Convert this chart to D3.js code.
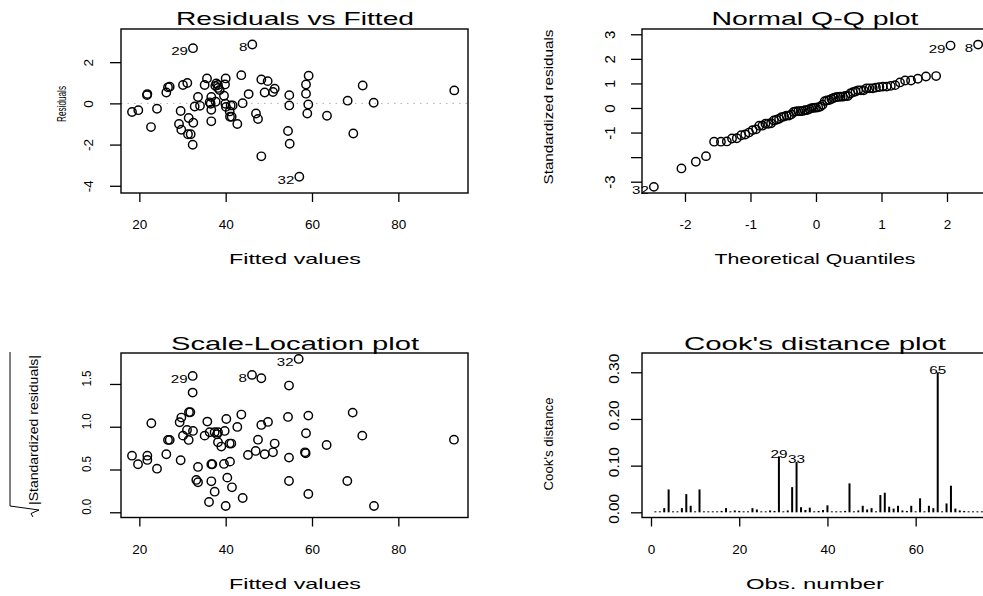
<!DOCTYPE html>
<html>
<head>
  <meta charset="utf-8" />
  <title>lm diagnostics</title>
  <style>
    body { margin: 0; background: #fff; }
    svg text { font-family: "Liberation Sans", Arial, Helvetica, sans-serif; fill: #000; }
    .frame { fill: none; stroke: #000; stroke-width: 1.4; }
    .pt { fill: none; stroke: #000; stroke-width: 1.45; }
    .axis path { display: none; }
    .axis line { stroke: #000; stroke-width: 1.3; }
  </style>
  <script src="https://cdnjs.cloudflare.com/ajax/libs/d3/7.8.5/d3.min.js"></script>
</head>
<body>
  <div id="chart"></div>
  <script>
    // residuals vs fitted (first three are the labelled obs 29, 8, 32)
    var fitted = [32.43, 46.17, 57.06, 43.62, 59.22, 35.67, 40.00, 48.26, 49.73, 31.11, 30.11, 37.82, 38.22, 37.60, 38.22,
      38.61, 27.03, 26.64, 35.13, 39.84, 58.61, 71.74, 21.85, 21.77, 26.25, 51.36, 50.96, 49.03, 45.32, 39.61, 33.59, 36.67,
      54.74, 58.61, 92.96, 36.29, 37.68, 43.93, 39.92, 41.16, 41.62, 34.05, 32.82, 54.74, 59.14, 68.26, 74.29, 36.67, 40.07,
      40.93, 29.57, 24.09, 19.76, 18.30, 47.02, 47.49, 58.91, 63.47, 31.43, 32.50, 29.19, 29.72, 36.67, 41.00, 41.39, 42.70,
      22.70, 31.27, 31.89, 32.36, 54.44, 54.83, 69.57, 48.26, 36.52];
    var residuals = [2.68, 2.86, -3.56, 1.37, 1.34, 1.21, 1.21, 1.16, 1.08, 0.99, 0.89, 0.97, 0.89, 0.85, 0.75, 0.65, 0.81,
      0.78, 0.89, 0.92, 0.92, 0.87, 0.45, 0.40, 0.53, 0.71, 0.55, 0.53, 0.45, 0.37, 0.31, 0.31, 0.40, 0.47, 0.63, 0.05, 0.08,
      0.01, -0.02, -0.10, -0.10, -0.12, -0.15, -0.10, -0.05, 0.13, 0.03, -0.31, -0.17, -0.39, -0.37, -0.26, -0.33, -0.42,
      -0.49, -0.76, -0.49, -0.60, -0.71, -0.94, -1.00, -1.28, -0.87, -0.65, -0.65, -1.00, -1.15, -1.50, -1.50, -2.01, -1.34,
      -1.96, -1.46, -2.57, -0.02];
    var pointLabels = ['29', '8', '32'];

    // scale-location (first three again 29, 8, 32)
    var slFitted = [32.35, 46.10, 56.91, 48.26, 54.67, 32.35, 31.50, 31.81, 29.73, 29.34, 22.78, 35.75, 40.15, 43.63, 54.44,
      49.80, 48.26, 42.70, 31.04, 32.43, 30.11, 31.43, 26.64, 27.03, 35.13, 36.29, 37.45, 38.22, 39.77, 37.99, 38.22, 38.99,
      40.92, 41.31, 47.49, 51.35, 26.25, 21.85, 21.85, 18.30, 19.69, 24.09, 29.57, 33.59, 36.68, 36.91, 39.61, 41.00, 45.17,
      46.95, 49.03, 50.96, 54.67, 33.20, 33.59, 36.68, 40.38, 41.46, 37.45, 36.14, 40.00, 43.94, 54.67, 59.15, 69.42, 58.61,
      71.65, 92.89, 63.39, 58.37, 58.53, 68.18, 59.15, 74.36];
    var slValues = [1.594, 1.606, 1.793, 1.567, 1.481, 1.399, 1.169, 1.169, 1.107, 1.052, 1.041, 1.060, 1.091, 1.142, 1.115,
      1.056, 1.021, 0.998, 0.963, 0.951, 0.896, 0.846, 0.846, 0.846, 0.896, 0.935, 0.935, 0.935, 0.951, 0.912, 0.818, 0.768,
      0.803, 0.803, 0.849, 0.803, 0.678, 0.662, 0.612, 0.662, 0.561, 0.510, 0.608, 0.530, 0.561, 0.561, 0.565, 0.592, 0.670,
      0.717, 0.678, 0.701, 0.639, 0.378, 0.351, 0.362, 0.405, 0.292, 0.241, 0.120, 0.074, 0.167, 0.366, 1.130, 1.165, 0.924,
      0.896, 0.849, 0.787, 0.701, 0.690, 0.366, 0.214, 0.074];

    // normal Q-Q
    var qqTheory = [-2.475, -2.054, -1.834, -1.679, -1.555, -1.451, -1.361, -1.282, -1.209, -1.142, -1.080, -1.022, -0.967,
      -0.915, -0.866, -0.818, -0.772, -0.728, -0.685, -0.643, -0.603, -0.563, -0.524, -0.486, -0.449, -0.412, -0.376, -0.341,
      -0.305, -0.270, -0.236, -0.202, -0.168, -0.134, -0.100, -0.067, -0.033, 0, 0.033, 0.067, 0.100, 0.134, 0.168, 0.202,
      0.236, 0.270, 0.305, 0.341, 0.376, 0.412, 0.449, 0.486, 0.524, 0.563, 0.603, 0.643, 0.685, 0.728, 0.772, 0.818, 0.866,
      0.915, 0.967, 1.022, 1.080, 1.142, 1.209, 1.282, 1.361, 1.451, 1.555, 1.679, 1.834, 2.054, 2.475];
    var qqSample = [-3.21, -2.46, -2.19, -1.96, -1.37, -1.37, -1.36, -1.24, -1.23, -1.11, -1.08, -1.00, -0.90, -0.87, -0.72,
      -0.72, -0.64, -0.64, -0.62, -0.51, -0.48, -0.44, -0.37, -0.35, -0.31, -0.31, -0.26, -0.16, -0.14, -0.13, -0.13, -0.12,
      -0.09, -0.085, -0.046, -0.005, 0.006, 0.014, 0.028, 0.058, 0.13, 0.28, 0.31, 0.32, 0.37, 0.41, 0.44, 0.45, 0.46, 0.46,
      0.49, 0.49, 0.59, 0.64, 0.67, 0.72, 0.72, 0.72, 0.80, 0.80, 0.80, 0.83, 0.85, 0.87, 0.87, 0.90, 0.93, 1.04, 1.12, 1.12,
      1.19, 1.28, 1.30, 2.54, 2.58];
    var qqLabelIdx = [0, 73, 74];
    var qqLabelText = ['32', '29', '8'];

    // Cook's distance, obs 1..75
    var cooks = [0.001, 0.002, 0.009, 0.049, 0.002, 0.001, 0.009, 0.039, 0.014, 0.002, 0.049, 0.002, 0.001, 0.002, 0.001,
      0.003, 0.009, 0.001, 0.004, 0.003, 0.002, 0.001, 0.009, 0.006, 0.001, 0.002, 0.004, 0.003, 0.120, 0.001, 0.004, 0.054,
      0.108, 0.011, 0.005, 0.010, 0.001, 0.003, 0.005, 0.015, 0.001, 0.002, 0.001, 0.003, 0.062, 0.001, 0.004, 0.014, 0.006,
      0.009, 0.001, 0.037, 0.042, 0.012, 0.008, 0.014, 0.004, 0.003, 0.014, 0.002, 0.030, 0.002, 0.014, 0.009, 0.300, 0.002,
      0.019, 0.057, 0.008, 0.004, 0.003, 0.002, 0.001, 0.002, 0.001];
    var cookLabelObs = [29, 33, 65];

    // ticks
    var fittedTicks = [20, 40, 60, 80];
    var residTicks = [-4, -2, 0, 2];
    var residTickLabels = ['-4', '-2', '0', '2'];
    var qqXTicks = [-2, -1, 0, 1, 2];
    var qqYTicks = [-3, -2, -1, 0, 1, 2, 3];
    var qqYTickLabels = ['-3', '', '-1', '0', '1', '2', '3'];
    var slTicks = [0, 0.5, 1, 1.5];
    var slTickLabels = ['0.0', '0.5', '1.0', '1.5'];
    var obsTicks = [0, 20, 40, 60];
    var cookTicks = [0, 0.1, 0.2, 0.3];
    var cookTickLabels = ['0.00', '0.10', '0.20', '0.30'];

    var svg = d3.select('#chart').append('svg')
      .attr('width', 983)
      .attr('height', 596);

    function makePanel(box, xDom, yDom) {
      var x = d3.scaleLinear().domain(xDom).range([box.left, box.right]);
      var y = d3.scaleLinear().domain(yDom).range([box.bottom, box.top]);
      return { x: x, y: y, box: box };
    }

    function frame(p) {
      svg.append('rect').attr('class', 'frame')
        .attr('x', p.box.left).attr('y', p.box.top)
        .attr('width', p.box.right - p.box.left)
        .attr('height', p.box.bottom - p.box.top);
    }

    function txt(x, y, s, size, len, rot) {
      var t = svg.append('text').attr('text-anchor', 'middle').style('font-size', size + 'px').text(s);
      if (rot) t.attr('transform', 'translate(' + x + ',' + y + ') rotate(-90)');
      else t.attr('x', x).attr('y', y);
      if (len) t.attr('textLength', len).attr('lengthAdjust', 'spacingAndGlyphs');
      return t;
    }

    function xAxis(p, ticks) {
      var g = svg.append('g').attr('class', 'axis')
        .attr('transform', 'translate(0,' + p.box.bottom + ')')
        .call(d3.axisBottom(p.x).tickValues(ticks).tickSize(9).tickFormat(d => String(d)));
      g.selectAll('text').attr('y', 36).attr('dy', 0).style('font-size', '13.5px');
    }

    function yAxis(p, ticks, labels, o) {
      var g = svg.append('g').attr('class', 'axis')
        .attr('transform', 'translate(' + p.box.left + ',0)')
        .call(d3.axisLeft(p.y).tickValues(ticks).tickSize(11).tickFormat((d, i) => labels[i]));
      var t = g.selectAll('text')
        .attr('transform', 'rotate(-90)')
        .attr('x', o.shift || 0).attr('y', -o.gap).attr('dy', 0)
        .attr('text-anchor', 'middle')
        .style('font-size', o.size + 'px');
      if (o.len) t.attr('textLength', o.len).attr('lengthAdjust', 'spacingAndGlyphs');
    }

    function circles(p, xs, ys) {
      svg.append('g').selectAll('circle')
        .data(d3.range(xs.length))
        .enter()
        .append('circle')
        .attr('class', 'pt')
        .attr('cx', i => p.x(xs[i]))
        .attr('cy', i => p.y(ys[i]))
        .attr('r', 4.2);
    }

    function pointLabel(p, xv, yv, s, size) {
      svg.append('text')
        .attr('x', p.x(xv) - 5).attr('y', p.y(yv) + 7)
        .attr('text-anchor', 'end')
        .attr('textLength', s.length * 8.4).attr('lengthAdjust', 'spacingAndGlyphs')
        .style('font-size', size + 'px')
        .text(s);
    }

    // ---- Residuals vs Fitted
    var p1 = makePanel({ left: 121, right: 468, top: 29, bottom: 193 }, [15.75, 96.14], [-4.35, 3.61]);
    svg.append('line')
      .attr('x1', p1.box.left).attr('x2', p1.box.right)
      .attr('y1', p1.y(0)).attr('y2', p1.y(0))
      .attr('stroke', '#b0b0b0').attr('stroke-width', 1).attr('stroke-dasharray', '1.5,5');
    circles(p1, fitted, residuals);
    pointLabels.forEach((s, i) => pointLabel(p1, fitted[i], residuals[i], s, 11));
    frame(p1);
    xAxis(p1, fittedTicks);
    yAxis(p1, residTicks, residTickLabels, { gap: 28, size: 13.5 });
    txt(295, 25, 'Residuals vs Fitted', 18.5, 238);
    txt(295, 264, 'Fitted values', 15, 132);
    txt(66, 104, 'Residuals', 12, 36, true);

    // ---- Normal Q-Q plot
    var p2 = makePanel({ left: 642, right: 988, top: 29, bottom: 193 }, [-2.656, 2.626], [-3.46, 3.215]);
    circles(p2, qqTheory, qqSample);
    qqLabelIdx.forEach((k, i) => pointLabel(p2, qqTheory[k], qqSample[k], qqLabelText[i], 10));
    frame(p2);
    xAxis(p2, qqXTicks);
    yAxis(p2, qqYTicks, qqYTickLabels, { gap: 27, size: 15 });
    txt(815, 25, 'Normal Q-Q plot', 18.5, 207);
    txt(815, 264, 'Theoretical Quantiles', 15, 201);
    txt(553, 107, 'Standardized residuals', 12.5, 155, true);

    // ---- Scale-Location plot
    var p3 = makePanel({ left: 121, right: 468, top: 353, bottom: 517.5 }, [15.75, 96.14], [-0.061, 1.862]);
    circles(p3, slFitted, slValues);
    pointLabels.forEach((s, i) => pointLabel(p3, slFitted[i], slValues[i], s, 11));
    frame(p3);
    xAxis(p3, fittedTicks);
    yAxis(p3, slTicks, slTickLabels, { gap: 30, size: 13.5, shift: 6, len: 16 });
    txt(295, 349.5, 'Scale-Location plot', 18.5, 248);
    txt(295, 588.5, 'Fitted values', 15, 132);
    txt(38, 430, '|Standardized residuals|', 12, 150, true);
    svg.append('path')
      .attr('d', 'M33,517 L31,513.5 L39,510 L10,506 L10,352')
      .attr('fill', 'none').attr('stroke', '#000').attr('stroke-width', 1);

    // ---- Cook's distance plot
    var p4 = makePanel({ left: 642, right: 988, top: 353, bottom: 517.5 }, [-2.04, 76.4], [-0.0111, 0.3413]);
    svg.append('g').selectAll('line')
      .data(cooks)
      .enter()
      .append('line')
      .attr('x1', (d, i) => p4.x(i + 1)).attr('x2', (d, i) => p4.x(i + 1))
      .attr('y1', p4.y(0)).attr('y2', d => Math.min(p4.y(d), p4.y(0) - 1))
      .attr('stroke', '#000').attr('stroke-width', 2);
    cookLabelObs.forEach(function (k) {
      svg.append('text')
        .attr('x', p4.x(k)).attr('y', p4.y(cooks[k - 1]) + 1.5)
        .attr('text-anchor', 'middle')
        .attr('textLength', 17).attr('lengthAdjust', 'spacingAndGlyphs')
        .style('font-size', '10px')
        .text(String(k));
    });
    frame(p4);
    xAxis(p4, obsTicks);
    yAxis(p4, cookTicks, cookTickLabels, { gap: 23, size: 15, shift: 4, len: 30 });
    txt(815, 349.5, "Cook's distance plot", 18.5, 262);
    txt(815, 588.5, 'Obs. number', 15, 138);
    txt(553, 444, "Cook's distance", 12, 93, true);
  </script>
</body>
</html>
